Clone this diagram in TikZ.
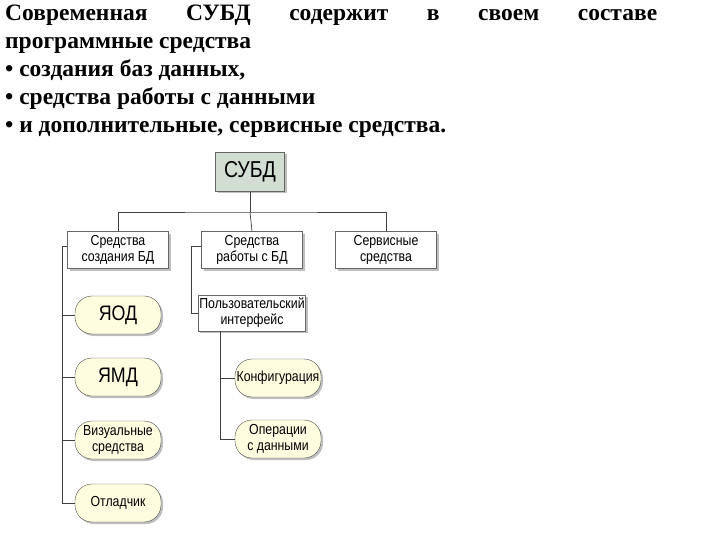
\documentclass[tikz,border=0pt]{standalone}
\usepackage{fontspec}
\setmainfont{Liberation Serif}
\newfontfamily\diag[FakeStretch=0.85]{Liberation Sans}
\usetikzlibrary{shadows}
\begin{document}
\begin{tikzpicture}[x=1pt,y=-1pt,
 box/.style={draw=gray!80!black,fill=white,minimum width=101pt,minimum height=37pt,align=center,font=\diag\fontsize{14.5}{16}\selectfont,inner sep=1pt,drop shadow={shadow xshift=2pt,shadow yshift=-2pt,opacity=0.5}},
 pill/.style={draw=black!70,fill=yellow!12!white,rounded corners=17pt,minimum width=86pt,minimum height=38pt,align=center,font=\diag\fontsize{14.5}{16}\selectfont,inner sep=1pt,drop shadow={shadow xshift=2pt,shadow yshift=-2pt,opacity=0.5}},
 ln/.style={draw=black!75,line width=0.7pt}]
\useasboundingbox (0,0) rectangle (720,540);
\fill[white] (0,0) rectangle (720,540);
\node[anchor=north west,align=left,font=\bfseries\fontsize{23.5}{28}\selectfont,inner sep=0pt] (title) at (5,5)
{\makebox[652pt][s]{Современная СУБД содержит в своем составе}\\
программные средства\\
• создания баз данных,\\
• средства работы с данными\\
• и дополнительные, сервисные средства.};
\node[box,fill=green!15!gray!30,minimum width=69pt,minimum height=39pt,font=\diag\fontsize{23}{25}\selectfont] (s) at (250,172) {СУБД};
\node[box] (a) at (118,250) {Средства\\создания БД};
\node[box] (b) at (252,250) {Средства\\работы с БД};
\node[box] (c) at (386,250) {Сервисные\\средства};
\node[box,minimum height=36pt] (ui) at (252,313) {Пользовательский\\интерфейс};
\node[pill,font=\diag\fontsize{21}{23}\selectfont] (p1) at (118,315) {ЯОД};
\node[pill,font=\diag\fontsize{21}{23}\selectfont] (p2) at (118,377) {ЯМД};
\node[pill] (p3) at (118,440) {Визуальные\\средства};
\node[pill] (p4) at (118,503) {Отладчик};
\node[pill] (q1) at (278,378) {Конфигурация};
\node[pill] (q2) at (278,439) {Операции\\с данными};
\coordinate (bus) at (250,212);
\draw[ln] (s.south) -- (bus);
\draw[ln] (a.north) |- (bus) -| (c.north);
\draw[ln] (bus) -- (b.north);
\draw[ln] ([yshift=4pt]a.west) -- ++(-5,0) |- (p4.west);
\draw[ln] (p1.west) -- ++(-12,0);
\draw[ln] (p2.west) -- ++(-12,0);
\draw[ln] (p3.west) -- ++(-12,0);
\draw[ln] ([yshift=4pt]b.west) -- ++(-10,0) |- (ui.west);
\draw[ln] ([xshift=-32pt]ui.south) |- (q2.west);
\draw[ln] ([xshift=-32pt]ui.south |- q1.west) -- (q1.west);
\end{tikzpicture}
\end{document}
